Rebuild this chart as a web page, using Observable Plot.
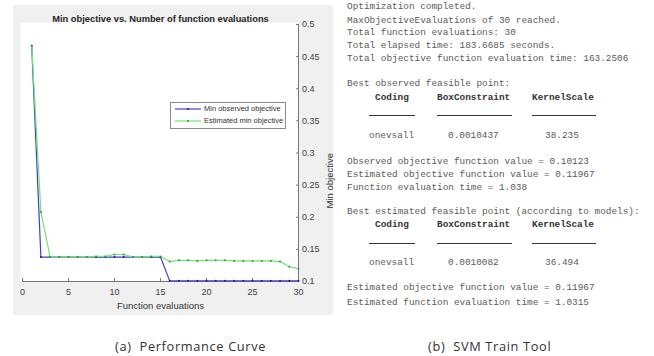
<!DOCTYPE html>
<html><head><meta charset="utf-8">
<script src="https://cdn.jsdelivr.net/npm/d3@7"></script>
<script src="https://cdn.jsdelivr.net/npm/@observablehq/plot@0.6"></script>
<style>
body{margin:0;background:#fff;}
#wrap{position:relative;width:654px;height:356px;overflow:hidden;font-family:"Liberation Sans",Arial,sans-serif;}
#panel{position:absolute;left:13px;top:5px;width:320px;height:310px;background:#f0f0f0;}
#chart{position:absolute;left:0;top:0;}
.legend{position:absolute;left:170px;top:102px;width:114px;height:25px;border:1px solid #8c8c8c;background:#fff;font-size:7.5px;color:#333;}
.legend .row{position:absolute;left:4px;height:10px;line-height:10px;white-space:nowrap;}
.legend svg{vertical-align:middle;margin-right:3px;}
.mono{position:absolute;font-family:"Liberation Mono","Courier New",monospace;font-size:9.4px;line-height:12px;color:#5a5a5a;white-space:pre;}
.b{font-weight:bold;color:#333;}
.ul{position:absolute;height:0;border-top:1.3px solid #333;}
.cap{position:absolute;font-family:"Open Sans",sans-serif;font-size:12.8px;letter-spacing:0.65px;line-height:16px;color:#333;white-space:pre;}
</style></head><body><div id="wrap"><div id="panel"></div><div id="chart"></div></div>
<script>
// ---- data ----
const evaluations = [1,2,3,4,5,6,7,8,9,10,11,12,13,14,15,16,17,18,19,20,21,22,23,24,25,26,27,28,29,30];
const minObserved = [0.467,0.138,0.138,0.138,0.138,0.138,0.138,0.138,0.138,0.138,0.138,0.138,0.138,0.138,0.138,
                     0.101,0.101,0.101,0.101,0.101,0.101,0.101,0.101,0.101,0.101,0.101,0.101,0.101,0.101,0.101];
const estimatedMin = [0.467,0.208,0.138,0.138,0.138,0.138,0.138,0.139,0.139,0.142,0.142,0.138,0.138,0.139,0.139,
                      0.131,0.133,0.133,0.132,0.133,0.133,0.133,0.132,0.132,0.132,0.132,0.132,0.131,0.123,0.120];
const xTicks = [0,5,10,15,20,25,30];
const yTicks = [0.1,0.15,0.2,0.25,0.3,0.35,0.4,0.45,0.5];
const seriesNames = ["Min observed objective","Estimated min objective"];
const chartTitle = "Min objective vs. Number of function evaluations";
const xLabel = "Function evaluations";
const yLabel = "Min objective";
const logLines = [
  "Optimization completed.",
  "MaxObjectiveEvaluations of 30 reached.",
  "Total function evaluations: 30",
  "Total elapsed time: 183.6685 seconds.",
  "Total objective function evaluation time: 163.2506",
  "Best observed feasible point:",
  "Observed objective function value = 0.10123",
  "Estimated objective function value = 0.11967",
  "Function evaluation time = 1.038",
  "Best estimated feasible point (according to models):",
  "Estimated objective function value = 0.11967",
  "Estimated function evaluation time = 1.0315"
];
const tableHeaders = ["Coding","BoxConstraint","KernelScale"];
const observedPoint = ["onevsall","0.0010437","38.235"];
const estimatedPoint = ["onevsall","0.0010082","36.494"];
const captions = ["(a)  Performance Curve","(b)  SVM Train Tool"];

// ---- styles / layout ----
const colors = {obs:"#3f3fd2", obsDot:"#1e1e8c", est:"#70e670", estDot:"#2f9a2f"};

const rows = evaluations.map((e,i)=>({e, obs:minObserved[i], est:estimatedMin[i]}));
const chart = Plot.plot({
  width:340, height:320,
  marginLeft:22, marginRight:42, marginTop:24, marginBottom:39,
  style:{background:"transparent", fontFamily:"Liberation Sans, Arial, sans-serif", fontSize:"9px", color:"#404040"},
  x:{domain:[0,30]},
  y:{domain:[0.1,0.5]},
  marks:[
    Plot.frame({fill:"white", stroke:null, insetTop:-2, insetLeft:-2}),
    Plot.axisX({ticks:xTicks, tickSize:-3, tickPadding:10.5, label:null, stroke:"#777"}),
    Plot.axisY({anchor:"right", ticks:yTicks, tickSize:-3, tickPadding:6.5, label:null, stroke:"#777",
                tickFormat:d=>String(+d.toFixed(2))}),
    Plot.ruleY([0.1],{stroke:"#777"}),
    Plot.ruleX([30],{stroke:"#777"}),
    Plot.line(rows,{x:"e", y:"obs", stroke:colors.obs, strokeWidth:1.2}),
    Plot.dot(rows,{x:"e", y:"obs", r:1, fill:colors.obsDot, stroke:null}),
    Plot.line(rows,{x:"e", y:"est", stroke:colors.est, strokeWidth:1.2}),
    Plot.dot(rows,{x:"e", y:"est", r:1, fill:colors.estDot, stroke:null}),
    Plot.text([chartTitle],{text:d=>d, frameAnchor:"top", dy:-9, fontWeight:"bold", fontSize:9.3, fill:"#262626"}),
    Plot.text([yLabel],{text:d=>d, frameAnchor:"right", dx:31, rotate:-90, fontSize:9.5, fill:"#333"}),
    Plot.text([xLabel],{text:d=>d, frameAnchor:"bottom", dy:27, fontSize:9.5, fill:"#333"})
  ]
});
document.getElementById("chart").appendChild(chart);

const wrap = document.getElementById("wrap");
function add(cls, html, left, top, extra){
  const d = document.createElement("div");
  d.className = cls; d.innerHTML = html;
  d.style.left = left+"px"; d.style.top = top+"px";
  if (extra) Object.assign(d.style, extra);
  wrap.appendChild(d); return d;
}

// legend
const lg = add("legend","",170,102);
const legendColors = [[colors.obs,colors.obsDot],[colors.est,colors.estDot]];
seriesNames.forEach((n,i)=>{
  const r = document.createElement("div");
  r.className="row"; r.style.top = (1+i*12)+"px";
  r.innerHTML = `<svg width="26" height="6"><line x1="0" y1="3" x2="26" y2="3" stroke="${legendColors[i][0]}" stroke-width="1.2"/><circle cx="13" cy="3" r="1" fill="${legendColors[i][1]}"/></svg>${n}`;
  lg.appendChild(r);
});

// log text
const lineY = [7,21,33,46,59,84,162,175,188,212,288,303];
logLines.forEach((t,i)=>add("mono", t, 347, lineY[i]-6));
const colX = [375,437,532];
const ulX = [[369,415],[437,512],[532,596]];
const valX = [369,448,545];
[[98,115,136,observedPoint],[225,243,263,estimatedPoint]].forEach(([hy,uy,vy,vals])=>{
  tableHeaders.forEach((h,j)=>add("mono b", h, colX[j], hy-6));
  ulX.forEach(([a,b])=>add("ul","",a,uy,{width:(b-a)+"px"}));
  vals.forEach((v,j)=>add("mono", v, valX[j], vy-6));
});

// captions
add("cap", captions[0], 115, 338);
add("cap", captions[1], 428, 338);
</script></body></html>
